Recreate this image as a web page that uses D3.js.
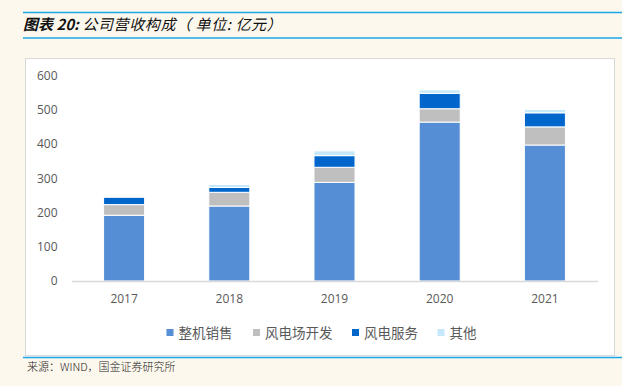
<!DOCTYPE html>
<html><head><meta charset="utf-8">
<script src="https://cdn.jsdelivr.net/npm/d3@7"></script>
<style>body{margin:0;background:#fdf8ee;}svg{display:block;}</style>
</head><body>
<svg id="c" width="622" height="386"></svg>
<script>
const years = ["2017","2018","2019","2020","2021"];
const seriesNames = ["整机销售","风电场开发","风电服务","其他"];
const sales = [192, 219, 288, 464, 397];
const farm = [31, 40, 44, 39, 53];
const service = [22, 14, 34, 45, 41];
const other = [1, 9, 14, 10, 10];
const yTicks = [0,100,200,300,400,500,600];
const colors = ["#558ed5","#bfbfbf","#0066cc","#c5e8fb"];

const svg = d3.select("#c");
svg.append("rect").attr("width",622).attr("height",386).attr("fill","#fdf8ee");
// title lines
svg.append("line").attr("x1",23).attr("x2",622).attr("y1",12.5).attr("y2",12.5).attr("stroke","#1aa6e8").attr("stroke-width",1.5);
svg.append("line").attr("x1",23).attr("x2",622).attr("y1",38).attr("y2",38).attr("stroke","#1aa6e8").attr("stroke-width",1.5);
const t = svg.append("text").attr("x",23).attr("y",30).attr("font-family","Noto Sans CJK SC").attr("font-style","italic")
  .attr("font-size",15).attr("fill","#111");
t.append("tspan").attr("font-weight","bold").text("图表 20: ");
t.append("tspan").attr("font-weight","normal").attr("letter-spacing",0.6).text("公司营收构成（ 单位: 亿元）");
// box
svg.append("rect").attr("x",25.5).attr("y",58.5).attr("width",589).attr("height",297).attr("fill","#fff").attr("stroke","#d9d9d9");
svg.append("line").attr("x1",23).attr("x2",622).attr("y1",357.5).attr("y2",357.5).attr("stroke","#1aa6e8").attr("stroke-width",1.5);
svg.append("text").attr("x",27).attr("y",371).attr("font-family","Noto Sans CJK SC").attr("font-weight",300).attr("font-size",11).attr("fill","#222").text("来源：WIND，国金证券研究所");

const x = d3.scaleBand().domain(years).range([71.5,597.5]).paddingInner(0.61).paddingOuter(0.305);
const y = d3.scaleLinear().domain([0,600]).range([281,75.5]);

const rows = years.map((yr,i)=>({year:yr, s0:sales[i], s1:farm[i], s2:service[i], s3:other[i]}));
const stack = d3.stack().keys(["s0","s1","s2","s3"])(rows);
const g = svg.append("g");
stack.forEach((layer,k)=>{
  g.selectAll(null).data(layer).enter().append("rect")
    .attr("x",d=>x(d.data.year)).attr("width",x.bandwidth())
    .attr("y",d=>y(d[1])).attr("height",d=>Math.max(0,y(d[0])-y(d[1])))
    .attr("fill",colors[k]).attr("stroke","#fff").attr("stroke-width",1);
});

// y axis
const ya = svg.append("g").attr("transform","translate(71.5,0)")
  .call(d3.axisLeft(y).tickValues(yTicks).tickSize(0).tickPadding(14));
ya.select(".domain").remove();
ya.selectAll("text").attr("font-family","'Open Sans', sans-serif").attr("font-size",12).attr("fill","#595959");
// x axis
const xa = svg.append("g").attr("transform","translate(0,281)")
  .call(d3.axisBottom(x).tickSize(0).tickPadding(13));
xa.select(".domain").attr("stroke","#d9d9d9").attr("stroke-width",1.5);
xa.selectAll("text").attr("font-family","'Open Sans', sans-serif").attr("font-size",12).attr("fill","#595959");

// legend
const legX = [166.5, 253, 352, 437.5];
const lg = svg.append("g");
seriesNames.forEach((n,i)=>{
  lg.append("rect").attr("x",legX[i]).attr("y",329).attr("width",7).attr("height",7).attr("fill",colors[i]);
  lg.append("text").attr("x",legX[i]+12).attr("y",337.5).attr("font-family","Noto Sans CJK SC").attr("font-size",13.5).attr("fill","#595959").text(n);
});
</script>
</body></html>
